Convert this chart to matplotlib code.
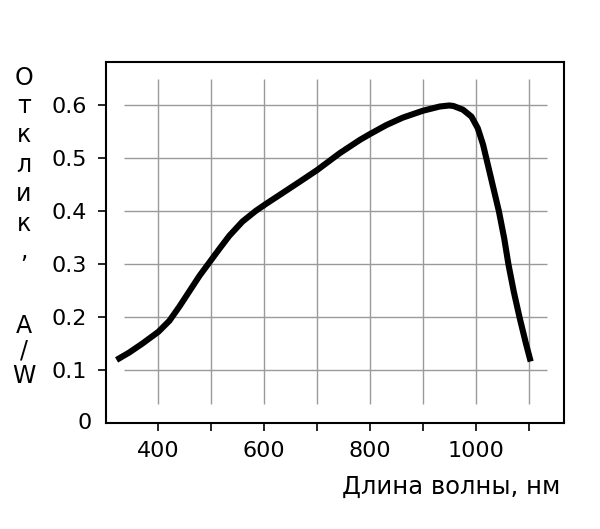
import matplotlib
matplotlib.use("Agg")
import matplotlib.pyplot as plt

wavelength = [321, 345, 370, 400, 421, 440, 459, 478, 498, 515, 534, 559, 584, 603, 629, 667,
              700, 743, 781, 800, 831, 862, 900, 932, 950, 958, 976, 992, 1004, 1014, 1029,
              1044, 1054, 1062, 1072, 1083, 1095, 1104]
response = [0.119, 0.133, 0.150, 0.172, 0.193, 0.220, 0.249, 0.278, 0.305, 0.328, 0.353, 0.380,
            0.400, 0.413, 0.430, 0.455, 0.477, 0.509, 0.534, 0.545, 0.562, 0.576, 0.589, 0.597,
            0.599, 0.598, 0.591, 0.578, 0.556, 0.525, 0.462, 0.399, 0.348, 0.299, 0.248, 0.199,
            0.150, 0.116]

xticks = [400, 500, 600, 700, 800, 900, 1000, 1100]
xticklabels = ["400", "", "600", "", "800", "", "1000", ""]
yticks = [0.1, 0.2, 0.3, 0.4, 0.5, 0.6]
yticklabels = ["0.1", "0.2", "0.3", "0.4", "0.5", "0.6"]
ylabel_chars = ["О", "т", "к", "л", "и", "к", ",", "A", "/", "W"]
ylabel_pos = [85, 113, 142, 172, 201, 231, 258, 333, 358, 383]
xlabel = "Длина волны, нм"

plt.rcParams['font.family'] = ['DejaVu Sans']
fig = plt.figure(figsize=(6.0, 5.29), dpi=100)
ax = fig.add_axes([106/600, 1-423/529, (564-106)/600, (423-62)/529])
ax.set_xlim(301, 1167)
ax.set_ylim(0, 0.681)

grid_color = "#9a9a9a"
ax.hlines(yticks, 335, 1135, colors=grid_color, linewidth=1.0, zorder=1)
ax.vlines(xticks, 0.036, 0.649, colors=grid_color, linewidth=1.0, zorder=1)

ax.plot(wavelength, response, color="black", linewidth=4.4, solid_capstyle="butt",
        solid_joinstyle="round", zorder=3)

ax.set_xticks(xticks)
ax.set_xticklabels(xticklabels)
ax.set_yticks(yticks)
ax.set_yticklabels(yticklabels)
ax.tick_params(axis="both", direction="out", length=6, width=1.2, labelsize=16, color="black")
ax.tick_params(axis="y", pad=8)
ax.tick_params(axis="x", pad=7)
for s in ax.spines.values():
    s.set_linewidth(1.5)

fig.text(92/600, 1-423/529, "0", ha="right", va="center", fontsize=16)

for ch, yp in zip(ylabel_chars, ylabel_pos):
    fig.text(24/600, 1-yp/529, ch, ha="center", va="baseline", fontsize=17)

fig.text(560/600, 1-494/529, xlabel, ha="right", va="baseline", fontsize=17.5)

fig.savefig("out.png", dpi=100)
